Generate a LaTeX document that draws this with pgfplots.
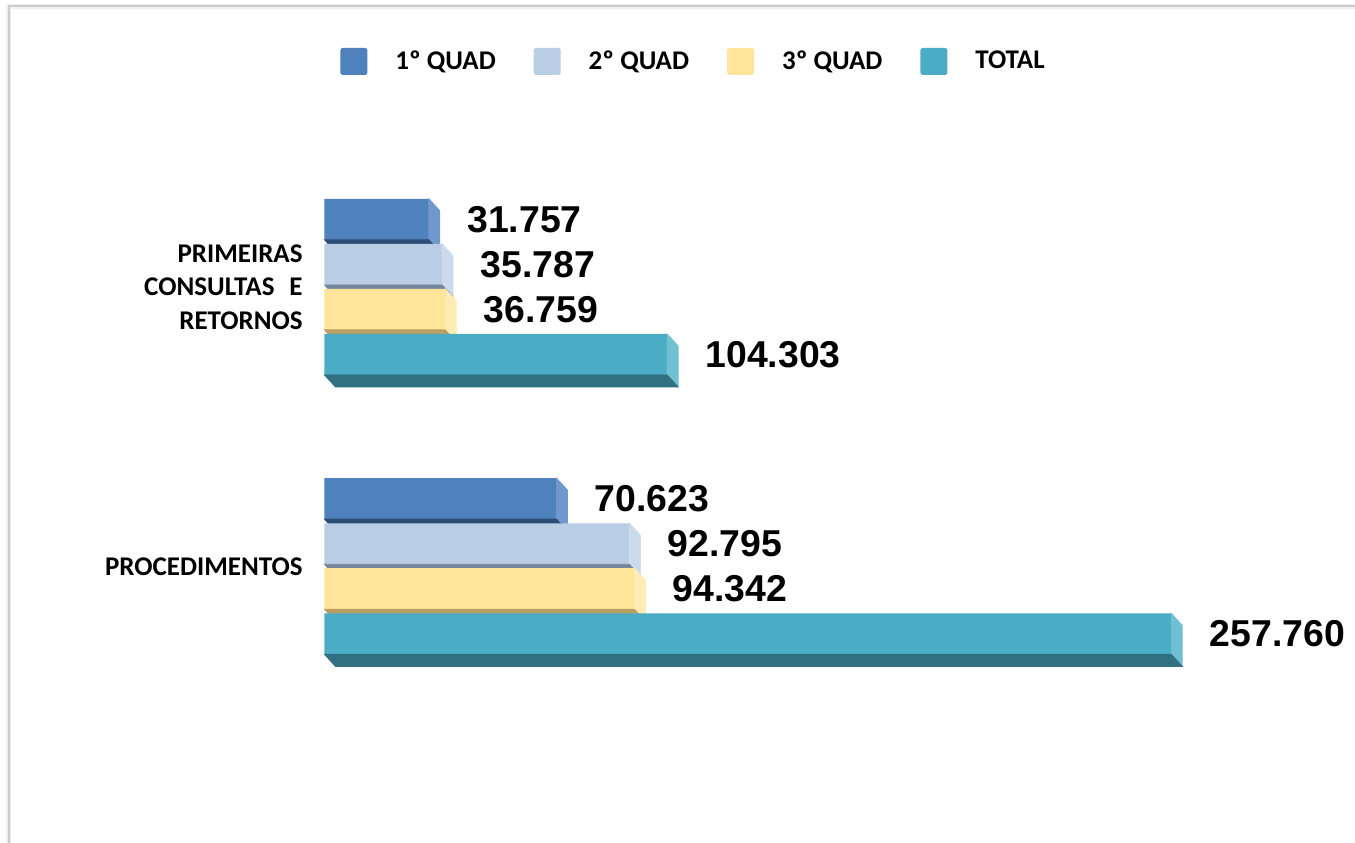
\documentclass[border=0pt]{standalone}
\usepackage{fontspec}
\setmainfont{Carlito}
\newfontfamily\numfont{Liberation Sans}
\usepackage{pgfplots}
\usepackage{pgfplotstable}
\pgfplotsset{compat=1.18}

\definecolor{aF}{RGB}{79,129,189}
\definecolor{aS}{RGB}{112,152,206}
\definecolor{aB}{RGB}{44,77,117}
\definecolor{bF}{RGB}{185,205,229}
\definecolor{bS}{RGB}{203,218,237}
\definecolor{bB}{RGB}{118,134,155}
\definecolor{cF}{RGB}{255,229,153}
\definecolor{cS}{RGB}{255,236,180}
\definecolor{cB}{RGB}{186,158,98}
\definecolor{dF}{RGB}{75,172,198}
\definecolor{dS}{RGB}{112,192,212}
\definecolor{dB}{RGB}{49,112,128}

% values in thousands; y = category position + offset within the group
\pgfplotstableread{
v y
31.757 1.242
70.623 0.242
}\qone
\pgfplotstableread{
v y
35.787 1.0805
92.795 0.0805
}\qtwo
\pgfplotstableread{
v y
36.759 0.9195
94.342 -0.0805
}\qthree
\pgfplotstableread{
v y
104.303 0.758
257.760 -0.242
}\qtot

\pgfplotsset{
  front/.style={xbar, bar width=20.5pt, bar shift=0pt, fill=#1, draw=none,
    legend image code/.code={\fill[#1, rounded corners=1.2pt] (0pt,-6.75pt) rectangle (13.5pt,6.75pt);},
    point meta=x,
    nodes near coords={\pgfmathprintnumber[fixed,fixed zerofill,precision=3,assume math mode=true]{\pgfplotspointmeta}},
    nodes near coords align=horizontal,
    every node near coord/.append style={anchor=west, inner sep=0pt, xshift=19pt,
      font=\numfont\bfseries\fontsize{18.7}{20}\selectfont, text=black}},
  faces/.style 2 args={forget plot, only marks, mark=*, mark size=0pt, scatter,
    visualization depends on={\thisrow{v} \as \rv},
    scatter/@pre marker code/.code={%
      \pgfmathsetmacro\L{-\rv*1.6425}%
      \pgfmathsetmacro\Lb{\L+5.5}%
      \fill[#1] (0pt,10.25pt) -- (5.5pt,4.25pt) -- (5.5pt,-16.25pt) -- (0pt,-10.25pt) -- cycle;
      \fill[#2] (\L pt,-10.25pt) -- (0pt,-10.25pt) -- (5.5pt,-16.25pt) -- (\Lb pt,-16.25pt) -- cycle;
    },
    scatter/@post marker code/.code={}},
}

\begin{document}
\begin{tikzpicture}
\path[use as bounding box] (0,0) rectangle (677.5pt,421pt);
\draw[gray!12, line width=2.6pt] (4.25pt,-2pt) -- (4.25pt,417.75pt) -- (680pt,417.75pt);
\draw[gray!40, line width=1pt] (4.25pt,-2pt) -- (4.25pt,417.75pt) -- (680pt,417.75pt);
\begin{axis}[at={(162.25pt,0pt)}, anchor=south west,
  scale only axis, width=515.25pt, height=421pt,
  xmin=0, xmax=313.7, ymin=-0.9871, ymax=2.0270, clip=false,
  clip marker paths=true,
  axis line style={draw=none}, xtick=\empty, ytick={0,1},
  yticklabels={PROCEDIMENTOS,{PRIMEIRAS\\CONSULTAS\hspace{0.55em}E\\RETORNOS}},
  major tick length=0pt, tick style={draw=none},
  yticklabel style={align=right, inner sep=0pt, font=\bfseries\fontsize{13.5}{16.75}\selectfont},
  yticklabel shift=10.75pt,
  legend columns=4,
  legend style={at={(rel axis cs:0.01504,0.927)}, anchor=west, draw=none, fill=none,
    inner xsep=0pt, inner ysep=0pt, nodes={inner sep=0pt},
    font=\bfseries\fontsize{13.5}{15}\selectfont,
    /tikz/every odd column/.append style={column sep=14pt},
    /tikz/every even column/.append style={column sep=19pt}},
]
\addplot[front=aF] table[x=v,y=y] {\qone};
\addlegendentry{1º QUAD}
\addplot[faces={aS}{aB}] table[x=v,y=y] {\qone};
\addplot[front=bF] table[x=v,y=y] {\qtwo};
\addlegendentry{2º QUAD}
\addplot[faces={bS}{bB}] table[x=v,y=y] {\qtwo};
\addplot[front=cF] table[x=v,y=y] {\qthree};
\addlegendentry{3º QUAD}
\addplot[faces={cS}{cB}] table[x=v,y=y] {\qthree};
\addplot[front=dF] table[x=v,y=y] {\qtot};
\addlegendentry{TOTAL}
\addplot[faces={dS}{dB}] table[x=v,y=y] {\qtot};
\end{axis}
\end{tikzpicture}
\end{document}
